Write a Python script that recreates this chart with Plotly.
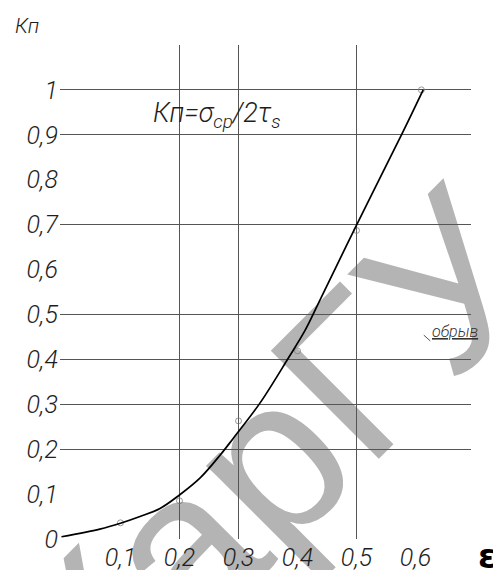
import plotly.graph_objects as go

# Smoothed curve Kп(ε)
eps_curve = [0.0, 0.065, 0.10, 0.133, 0.167, 0.20, 0.235, 0.269, 0.291, 0.336,
             0.384, 0.413, 0.438, 0.50, 0.577, 0.613]
kn_curve = [0.005, 0.022, 0.035, 0.050, 0.068, 0.098, 0.136, 0.187, 0.224, 0.302,
            0.402, 0.465, 0.532, 0.699, 0.902, 1.0]

# Measured points
eps_pts = [0.1, 0.2, 0.3, 0.4, 0.5, 0.61]
kn_pts = [0.036, 0.085, 0.263, 0.419, 0.687, 1.0]

# Tick labels
y_ticks = [0, 0.1, 0.2, 0.3, 0.4, 0.5, 0.6, 0.7, 0.8, 0.9, 1.0]
y_labels = ["0", "0,1", "0,2", "0,3", "0,4", "0,5", "0,6", "0,7", "0,8", "0,9", "1"]
x_ticks = [0.1, 0.2, 0.3, 0.4, 0.5, 0.6]
x_labels = ["0,1", "0,2", "0,3", "0,4", "0,5", "0,6"]

# Grid lines that are drawn
x_grid = [0.2, 0.3, 0.5]
y_grid = [0.2, 0.3, 0.4, 0.5, 0.7, 0.9, 1.0, 1.1]

X_RANGE = [-0.0025, 0.694]
Y_RANGE = [0, 1.1]

FONT = "Roboto, Liberation Sans, sans-serif"
tick_font = dict(family=FONT, size=25, color="#1e1e1e", style="italic", weight=300)

fig = go.Figure()

# points on the grid subplot (drawn above its grid lines)
fig.add_trace(go.Scatter(
    x=eps_pts, y=kn_pts, mode="markers",
    marker=dict(symbol="circle-open", size=6, color="#808080", line=dict(width=0.8)),
    xaxis="x", yaxis="y", showlegend=False,
))
# curve on the labelled overlay subplot
fig.add_trace(go.Scatter(
    x=eps_curve, y=kn_curve, mode="lines",
    line=dict(color="black", width=1.7, shape="spline", smoothing=1.0),
    xaxis="x2", yaxis="y2", hoverinfo="skip", showlegend=False,
))

fig.update_layout(
    width=493, height=570,
    margin=dict(l=60, r=22, t=45, b=31, autoexpand=False),
    paper_bgcolor="white", plot_bgcolor="rgba(0,0,0,0)",
    showlegend=False,
    # grid-carrying axes
    xaxis=dict(range=X_RANGE, tickvals=x_grid, showticklabels=False, ticks="",
               showgrid=True, gridcolor="#555555", gridwidth=1, zeroline=False,
               showline=False, automargin=False),
    yaxis=dict(range=Y_RANGE, tickvals=y_grid, showticklabels=False, ticks="",
               showgrid=True, gridcolor="#555555", gridwidth=1, zeroline=False,
               showline=False, automargin=False),
    # labelled axes carrying the curve
    xaxis2=dict(range=X_RANGE, overlaying="x", anchor="y2", side="bottom",
                tickvals=x_ticks, ticktext=x_labels, ticks="",
                showgrid=False, zeroline=False, showline=False, automargin=False,
                tickfont=tick_font, ticklabelstandoff=1),
    yaxis2=dict(range=Y_RANGE, overlaying="y", anchor="x2", side="left",
                tickvals=y_ticks, ticktext=y_labels, ticks="",
                showgrid=False, zeroline=False, showline=False, automargin=False,
                tickfont=tick_font, ticklabelstandoff=1),
)

# Background watermark
fig.add_shape(
    type="rect", xref="paper", yref="paper",
    x0=0.452, x1=0.502, y0=0.172, y1=0.216,
    line=dict(width=0), fillcolor="rgba(0,0,0,0)", layer="below",
    label=dict(text="КарГУ", textposition="middle center", textangle=-45,
               font=dict(family="Liberation Sans, Arial, sans-serif", size=222,
                         color="#b4b4b4")),
)

# Axis captions and formula
fig.add_annotation(text="Кп", xref="paper", yref="paper", x=-0.080, y=1.0385,
                   xanchor="center", yanchor="middle", showarrow=False,
                   font=dict(family=FONT, size=21, color="#1e1e1e", style="italic", weight=300))
fig.add_annotation(text="ε", xref="paper", yref="paper", x=1.039, y=-0.0344,
                   xanchor="center", yanchor="middle", showarrow=False,
                   font=dict(family="DejaVu Sans, sans-serif", size=34,
                             color="black", weight="bold"))
fig.add_annotation(text="Кп=σ<sub>ср</sub>/2τ<sub>s</sub>", xref="x2", yref="y2",
                   x=0.152, y=0.944, xanchor="left", yanchor="middle", showarrow=False,
                   font=dict(family=FONT, size=27, color="#1e1e1e", style="italic", weight=300))
fig.add_annotation(text='<span style="text-decoration:underline">обрыв</span>',
                   xref="x2", yref="y2", x=0.625, y=0.461, xanchor="left", yanchor="middle",
                   showarrow=False,
                   font=dict(family=FONT, size=16, color="#333333", style="italic", weight=300))
fig.add_shape(type="line", xref="x2", yref="y2", x0=0.614, y0=0.454, x1=0.625, y1=0.441,
              line=dict(color="#555555", width=1))

fig.write_html("out.html")
